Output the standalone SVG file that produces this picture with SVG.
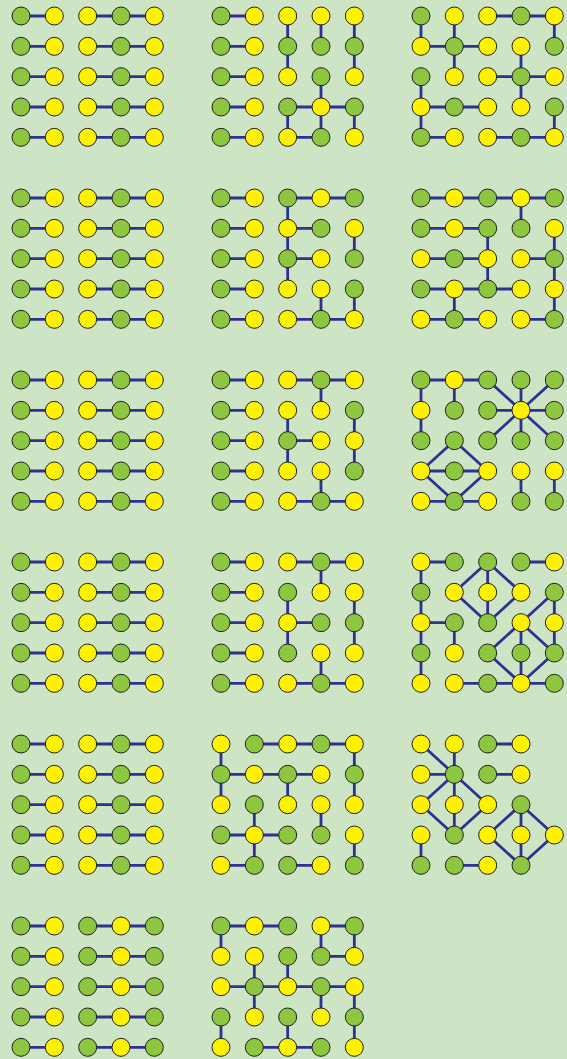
<svg xmlns="http://www.w3.org/2000/svg" xmlns:xlink="http://www.w3.org/1999/xlink" width="567" height="1059" viewBox="0 0 567 1059">
<style>
.e{fill:none;stroke:#2E3192;stroke-width:2.8;stroke-linecap:butt}
.g{fill:#8DC63F;stroke:#231F20;stroke-width:1}
.y{fill:#FFF200;stroke:#231F20;stroke-width:1}
</style>
<defs>
<circle id="G" class="g" r="9"/>
<circle id="Y" class="y" r="9"/>
</defs>
<rect width="567" height="1059" fill="#CDE5C5"/>
<g id="connectors">
<path class="e" transform="translate(21,16)" d="M0 0H33.33M66.67 0H133.33M0 30.33H33.33M66.67 30.33H133.33M0 60.67H33.33M66.67 60.67H133.33M0 91H33.33M66.67 91H133.33M0 121.33H33.33M66.67 121.33H133.33"/>
<path class="e" transform="translate(21,198)" d="M0 0H33.33M66.67 0H133.33M0 30.33H33.33M66.67 30.33H133.33M0 60.67H33.33M66.67 60.67H133.33M0 91H33.33M66.67 91H133.33M0 121.33H33.33M66.67 121.33H133.33"/>
<path class="e" transform="translate(21,380)" d="M0 0H33.33M66.67 0H133.33M0 30.33H33.33M66.67 30.33H133.33M0 60.67H33.33M66.67 60.67H133.33M0 91H33.33M66.67 91H133.33M0 121.33H33.33M66.67 121.33H133.33"/>
<path class="e" transform="translate(21,562)" d="M0 0H33.33M66.67 0H133.33M0 30.33H33.33M66.67 30.33H133.33M0 60.67H33.33M66.67 60.67H133.33M0 91H33.33M66.67 91H133.33M0 121.33H33.33M66.67 121.33H133.33"/>
<path class="e" transform="translate(21,744)" d="M0 0H33.33M66.67 0H133.33M0 30.33H33.33M66.67 30.33H133.33M0 60.67H33.33M66.67 60.67H133.33M0 91H33.33M66.67 91H133.33M0 121.33H33.33M66.67 121.33H133.33"/>
<path class="e" transform="translate(21,926)" d="M0 0H33.33M66.67 0H133.33M0 30.33H33.33M66.67 30.33H133.33M0 60.67H33.33M66.67 60.67H133.33M0 91H33.33M66.67 91H133.33M0 121.33H33.33M66.67 121.33H133.33"/>
<path class="e" transform="translate(221,16)" d="M0 0H33.33M0 30.33H33.33M0 60.67H33.33M0 91H33.33M0 121.33H33.33M66.67 0V60.67M100 0V30.33M133.33 0V60.67M100 60.67V121.33M66.67 91H133.33M66.67 91V121.33M66.67 121.33H100M133.33 91V121.33"/>
<path class="e" transform="translate(221,198)" d="M0 0H33.33M0 30.33H33.33M0 60.67H33.33M0 91H33.33M0 121.33H33.33M66.67 0H133.33M66.67 0V91M66.67 30.33H100M66.67 60.67H100M133.33 30.33V60.67M100 91V121.33M66.67 121.33H133.33M133.33 91V121.33"/>
<path class="e" transform="translate(221,380)" d="M0 0H33.33M0 30.33H33.33M0 60.67H33.33M0 91H33.33M0 121.33H33.33M66.67 0H133.33M100 0V30.33M66.67 30.33V91M66.67 60.67H100M133.33 30.33V91M100 91V121.33M66.67 121.33H133.33"/>
<path class="e" transform="translate(221,562)" d="M0 0H33.33M0 30.33H33.33M0 60.67H33.33M0 91H33.33M0 121.33H33.33M66.67 0H133.33M100 0V30.33M66.67 30.33V91M66.67 60.67H100M133.33 30.33V91M100 91V121.33M66.67 121.33H133.33"/>
<path class="e" transform="translate(221,744)" d="M33.33 0H133.33M0 0V60.67M0 30.33H100M66.67 30.33V60.67M133.33 0V60.67M33.33 60.67V121.33M0 91H66.67M0 121.33H33.33M100 60.67V91M66.67 121.33H100M133.33 91V121.33"/>
<path class="e" transform="translate(221,926)" d="M0 0H66.67M100 0H133.33M0 0V30.33M100 0V30.33M133.33 0V30.33M100 30.33H133.33M33.33 30.33V91M66.67 30.33V60.67M0 60.67H133.33M100 60.67V91M133.33 60.67V121.33M0 91V121.33M66.67 91V121.33M33.33 121.33H100"/>
<path class="e" transform="translate(421,16)" d="M66.67 0H133.33M133.33 0V30.33M0 0V30.33M33.33 0V60.67M0 30.33H66.67M100 30.33V91M66.67 60.67H133.33M0 60.67V121.33M0 91H66.67M0 121.33H33.33M66.67 121.33H133.33M133.33 91V121.33"/>
<path class="e" transform="translate(421,198)" d="M0 0H133.33M100 0V30.33M0 30.33H66.67M66.67 30.33V91M0 60.67H66.67M133.33 30.33V121.33M100 60.67H133.33M0 91H100M33.33 91V121.33M0 121.33H66.67M100 121.33H133.33"/>
<path class="e" transform="translate(421,380)" d="M0 0H66.67M0 0V60.67M33.33 0V30.33M100 30.33L66.67 0M100 30.33V0M100 30.33L133.33 0M66.67 30.33H133.33M100 30.33L66.67 60.67M100 30.33V60.67M100 30.33L133.33 60.67M33.33 60.67L0 91M33.33 60.67L66.67 91M0 91H66.67M0 91L33.33 121.33M66.67 91L33.33 121.33M0 121.33H66.67M100 91V121.33M133.33 91V121.33"/>
<path class="e" transform="translate(421,562)" d="M0 0H33.33M100 0H133.33M0 0V121.33M0 60.67H33.33M33.33 60.67V91M66.67 0L33.33 30.33M66.67 0V30.33M66.67 0L100 30.33M33.33 30.33L66.67 60.67M66.67 30.33V60.67M100 30.33L66.67 60.67M100 60.67L133.33 30.33M133.33 30.33V91M100 60.67L66.67 91M100 60.67V121.33M100 60.67L133.33 91M66.67 91L100 121.33M133.33 91L100 121.33M33.33 121.33H133.33"/>
<path class="e" transform="translate(421,744)" d="M0 0L33.33 30.33M33.33 0V30.33M0 30.33H33.33M66.67 0H100M66.67 30.33H100M33.33 30.33L0 60.67M33.33 30.33V91M33.33 30.33L66.67 60.67M0 60.67L33.33 91M66.67 60.67L33.33 91M0 91V121.33M33.33 121.33H66.67M100 60.67L66.67 91M100 60.67V121.33M100 60.67L133.33 91M66.67 91L100 121.33M133.33 91L100 121.33"/>
</g>
<g id="panel-00" transform="translate(21,16)">
<g id="p00-00"><use href="#G" x="0" y="0"/></g><g id="p00-01"><use href="#Y" x="33.33" y="0"/></g><g id="p00-02"><use href="#Y" x="66.67" y="0"/></g><g id="p00-03"><use href="#G" x="100" y="0"/></g><g id="p00-04"><use href="#Y" x="133.33" y="0"/></g>
<g id="p00-10"><use href="#G" x="0" y="30.33"/></g><g id="p00-11"><use href="#Y" x="33.33" y="30.33"/></g><g id="p00-12"><use href="#Y" x="66.67" y="30.33"/></g><g id="p00-13"><use href="#G" x="100" y="30.33"/></g><g id="p00-14"><use href="#Y" x="133.33" y="30.33"/></g>
<g id="p00-20"><use href="#G" x="0" y="60.67"/></g><g id="p00-21"><use href="#Y" x="33.33" y="60.67"/></g><g id="p00-22"><use href="#Y" x="66.67" y="60.67"/></g><g id="p00-23"><use href="#G" x="100" y="60.67"/></g><g id="p00-24"><use href="#Y" x="133.33" y="60.67"/></g>
<g id="p00-30"><use href="#G" x="0" y="91"/></g><g id="p00-31"><use href="#Y" x="33.33" y="91"/></g><g id="p00-32"><use href="#Y" x="66.67" y="91"/></g><g id="p00-33"><use href="#G" x="100" y="91"/></g><g id="p00-34"><use href="#Y" x="133.33" y="91"/></g>
<g id="p00-40"><use href="#G" x="0" y="121.33"/></g><g id="p00-41"><use href="#Y" x="33.33" y="121.33"/></g><g id="p00-42"><use href="#Y" x="66.67" y="121.33"/></g><g id="p00-43"><use href="#G" x="100" y="121.33"/></g><g id="p00-44"><use href="#Y" x="133.33" y="121.33"/></g>
</g>
<g id="panel-10" transform="translate(21,198)">
<g id="p10-00"><use href="#G" x="0" y="0"/></g><g id="p10-01"><use href="#Y" x="33.33" y="0"/></g><g id="p10-02"><use href="#Y" x="66.67" y="0"/></g><g id="p10-03"><use href="#G" x="100" y="0"/></g><g id="p10-04"><use href="#Y" x="133.33" y="0"/></g>
<g id="p10-10"><use href="#G" x="0" y="30.33"/></g><g id="p10-11"><use href="#Y" x="33.33" y="30.33"/></g><g id="p10-12"><use href="#Y" x="66.67" y="30.33"/></g><g id="p10-13"><use href="#G" x="100" y="30.33"/></g><g id="p10-14"><use href="#Y" x="133.33" y="30.33"/></g>
<g id="p10-20"><use href="#G" x="0" y="60.67"/></g><g id="p10-21"><use href="#Y" x="33.33" y="60.67"/></g><g id="p10-22"><use href="#Y" x="66.67" y="60.67"/></g><g id="p10-23"><use href="#G" x="100" y="60.67"/></g><g id="p10-24"><use href="#Y" x="133.33" y="60.67"/></g>
<g id="p10-30"><use href="#G" x="0" y="91"/></g><g id="p10-31"><use href="#Y" x="33.33" y="91"/></g><g id="p10-32"><use href="#Y" x="66.67" y="91"/></g><g id="p10-33"><use href="#G" x="100" y="91"/></g><g id="p10-34"><use href="#Y" x="133.33" y="91"/></g>
<g id="p10-40"><use href="#G" x="0" y="121.33"/></g><g id="p10-41"><use href="#Y" x="33.33" y="121.33"/></g><g id="p10-42"><use href="#Y" x="66.67" y="121.33"/></g><g id="p10-43"><use href="#G" x="100" y="121.33"/></g><g id="p10-44"><use href="#Y" x="133.33" y="121.33"/></g>
</g>
<g id="panel-20" transform="translate(21,380)">
<g id="p20-00"><use href="#G" x="0" y="0"/></g><g id="p20-01"><use href="#Y" x="33.33" y="0"/></g><g id="p20-02"><use href="#Y" x="66.67" y="0"/></g><g id="p20-03"><use href="#G" x="100" y="0"/></g><g id="p20-04"><use href="#Y" x="133.33" y="0"/></g>
<g id="p20-10"><use href="#G" x="0" y="30.33"/></g><g id="p20-11"><use href="#Y" x="33.33" y="30.33"/></g><g id="p20-12"><use href="#Y" x="66.67" y="30.33"/></g><g id="p20-13"><use href="#G" x="100" y="30.33"/></g><g id="p20-14"><use href="#Y" x="133.33" y="30.33"/></g>
<g id="p20-20"><use href="#G" x="0" y="60.67"/></g><g id="p20-21"><use href="#Y" x="33.33" y="60.67"/></g><g id="p20-22"><use href="#Y" x="66.67" y="60.67"/></g><g id="p20-23"><use href="#G" x="100" y="60.67"/></g><g id="p20-24"><use href="#Y" x="133.33" y="60.67"/></g>
<g id="p20-30"><use href="#G" x="0" y="91"/></g><g id="p20-31"><use href="#Y" x="33.33" y="91"/></g><g id="p20-32"><use href="#Y" x="66.67" y="91"/></g><g id="p20-33"><use href="#G" x="100" y="91"/></g><g id="p20-34"><use href="#Y" x="133.33" y="91"/></g>
<g id="p20-40"><use href="#G" x="0" y="121.33"/></g><g id="p20-41"><use href="#Y" x="33.33" y="121.33"/></g><g id="p20-42"><use href="#Y" x="66.67" y="121.33"/></g><g id="p20-43"><use href="#G" x="100" y="121.33"/></g><g id="p20-44"><use href="#Y" x="133.33" y="121.33"/></g>
</g>
<g id="panel-30" transform="translate(21,562)">
<g id="p30-00"><use href="#G" x="0" y="0"/></g><g id="p30-01"><use href="#Y" x="33.33" y="0"/></g><g id="p30-02"><use href="#Y" x="66.67" y="0"/></g><g id="p30-03"><use href="#G" x="100" y="0"/></g><g id="p30-04"><use href="#Y" x="133.33" y="0"/></g>
<g id="p30-10"><use href="#G" x="0" y="30.33"/></g><g id="p30-11"><use href="#Y" x="33.33" y="30.33"/></g><g id="p30-12"><use href="#Y" x="66.67" y="30.33"/></g><g id="p30-13"><use href="#G" x="100" y="30.33"/></g><g id="p30-14"><use href="#Y" x="133.33" y="30.33"/></g>
<g id="p30-20"><use href="#G" x="0" y="60.67"/></g><g id="p30-21"><use href="#Y" x="33.33" y="60.67"/></g><g id="p30-22"><use href="#Y" x="66.67" y="60.67"/></g><g id="p30-23"><use href="#G" x="100" y="60.67"/></g><g id="p30-24"><use href="#Y" x="133.33" y="60.67"/></g>
<g id="p30-30"><use href="#G" x="0" y="91"/></g><g id="p30-31"><use href="#Y" x="33.33" y="91"/></g><g id="p30-32"><use href="#Y" x="66.67" y="91"/></g><g id="p30-33"><use href="#G" x="100" y="91"/></g><g id="p30-34"><use href="#Y" x="133.33" y="91"/></g>
<g id="p30-40"><use href="#G" x="0" y="121.33"/></g><g id="p30-41"><use href="#Y" x="33.33" y="121.33"/></g><g id="p30-42"><use href="#Y" x="66.67" y="121.33"/></g><g id="p30-43"><use href="#G" x="100" y="121.33"/></g><g id="p30-44"><use href="#Y" x="133.33" y="121.33"/></g>
</g>
<g id="panel-40" transform="translate(21,744)">
<g id="p40-00"><use href="#G" x="0" y="0"/></g><g id="p40-01"><use href="#Y" x="33.33" y="0"/></g><g id="p40-02"><use href="#Y" x="66.67" y="0"/></g><g id="p40-03"><use href="#G" x="100" y="0"/></g><g id="p40-04"><use href="#Y" x="133.33" y="0"/></g>
<g id="p40-10"><use href="#G" x="0" y="30.33"/></g><g id="p40-11"><use href="#Y" x="33.33" y="30.33"/></g><g id="p40-12"><use href="#Y" x="66.67" y="30.33"/></g><g id="p40-13"><use href="#G" x="100" y="30.33"/></g><g id="p40-14"><use href="#Y" x="133.33" y="30.33"/></g>
<g id="p40-20"><use href="#G" x="0" y="60.67"/></g><g id="p40-21"><use href="#Y" x="33.33" y="60.67"/></g><g id="p40-22"><use href="#Y" x="66.67" y="60.67"/></g><g id="p40-23"><use href="#G" x="100" y="60.67"/></g><g id="p40-24"><use href="#Y" x="133.33" y="60.67"/></g>
<g id="p40-30"><use href="#G" x="0" y="91"/></g><g id="p40-31"><use href="#Y" x="33.33" y="91"/></g><g id="p40-32"><use href="#Y" x="66.67" y="91"/></g><g id="p40-33"><use href="#G" x="100" y="91"/></g><g id="p40-34"><use href="#Y" x="133.33" y="91"/></g>
<g id="p40-40"><use href="#G" x="0" y="121.33"/></g><g id="p40-41"><use href="#Y" x="33.33" y="121.33"/></g><g id="p40-42"><use href="#Y" x="66.67" y="121.33"/></g><g id="p40-43"><use href="#G" x="100" y="121.33"/></g><g id="p40-44"><use href="#Y" x="133.33" y="121.33"/></g>
</g>
<g id="panel-50" transform="translate(21,926)">
<g id="p50-00"><use href="#G" x="0" y="0"/></g><g id="p50-01"><use href="#Y" x="33.33" y="0"/></g><g id="p50-02"><use href="#G" x="66.67" y="0"/></g><g id="p50-03"><use href="#Y" x="100" y="0"/></g><g id="p50-04"><use href="#G" x="133.33" y="0"/></g>
<g id="p50-10"><use href="#G" x="0" y="30.33"/></g><g id="p50-11"><use href="#Y" x="33.33" y="30.33"/></g><g id="p50-12"><use href="#G" x="66.67" y="30.33"/></g><g id="p50-13"><use href="#Y" x="100" y="30.33"/></g><g id="p50-14"><use href="#G" x="133.33" y="30.33"/></g>
<g id="p50-20"><use href="#G" x="0" y="60.67"/></g><g id="p50-21"><use href="#Y" x="33.33" y="60.67"/></g><g id="p50-22"><use href="#G" x="66.67" y="60.67"/></g><g id="p50-23"><use href="#Y" x="100" y="60.67"/></g><g id="p50-24"><use href="#G" x="133.33" y="60.67"/></g>
<g id="p50-30"><use href="#G" x="0" y="91"/></g><g id="p50-31"><use href="#Y" x="33.33" y="91"/></g><g id="p50-32"><use href="#G" x="66.67" y="91"/></g><g id="p50-33"><use href="#Y" x="100" y="91"/></g><g id="p50-34"><use href="#G" x="133.33" y="91"/></g>
<g id="p50-40"><use href="#G" x="0" y="121.33"/></g><g id="p50-41"><use href="#Y" x="33.33" y="121.33"/></g><g id="p50-42"><use href="#G" x="66.67" y="121.33"/></g><g id="p50-43"><use href="#Y" x="100" y="121.33"/></g><g id="p50-44"><use href="#G" x="133.33" y="121.33"/></g>
</g>
<g id="panel-01" transform="translate(221,16)">
<g id="p01-00"><use href="#G" x="0" y="0"/></g><g id="p01-01"><use href="#Y" x="33.33" y="0"/></g><g id="p01-02"><use href="#Y" x="66.67" y="0"/></g><g id="p01-03"><use href="#Y" x="100" y="0"/></g><g id="p01-04"><use href="#Y" x="133.33" y="0"/></g>
<g id="p01-10"><use href="#G" x="0" y="30.33"/></g><g id="p01-11"><use href="#Y" x="33.33" y="30.33"/></g><g id="p01-12"><use href="#G" x="66.67" y="30.33"/></g><g id="p01-13"><use href="#G" x="100" y="30.33"/></g><g id="p01-14"><use href="#G" x="133.33" y="30.33"/></g>
<g id="p01-20"><use href="#G" x="0" y="60.67"/></g><g id="p01-21"><use href="#Y" x="33.33" y="60.67"/></g><g id="p01-22"><use href="#Y" x="66.67" y="60.67"/></g><g id="p01-23"><use href="#G" x="100" y="60.67"/></g><g id="p01-24"><use href="#Y" x="133.33" y="60.67"/></g>
<g id="p01-30"><use href="#G" x="0" y="91"/></g><g id="p01-31"><use href="#Y" x="33.33" y="91"/></g><g id="p01-32"><use href="#G" x="66.67" y="91"/></g><g id="p01-33"><use href="#Y" x="100" y="91"/></g><g id="p01-34"><use href="#G" x="133.33" y="91"/></g>
<g id="p01-40"><use href="#G" x="0" y="121.33"/></g><g id="p01-41"><use href="#Y" x="33.33" y="121.33"/></g><g id="p01-42"><use href="#Y" x="66.67" y="121.33"/></g><g id="p01-43"><use href="#G" x="100" y="121.33"/></g><g id="p01-44"><use href="#Y" x="133.33" y="121.33"/></g>
</g>
<g id="panel-11" transform="translate(221,198)">
<g id="p11-00"><use href="#G" x="0" y="0"/></g><g id="p11-01"><use href="#Y" x="33.33" y="0"/></g><g id="p11-02"><use href="#G" x="66.67" y="0"/></g><g id="p11-03"><use href="#Y" x="100" y="0"/></g><g id="p11-04"><use href="#G" x="133.33" y="0"/></g>
<g id="p11-10"><use href="#G" x="0" y="30.33"/></g><g id="p11-11"><use href="#Y" x="33.33" y="30.33"/></g><g id="p11-12"><use href="#Y" x="66.67" y="30.33"/></g><g id="p11-13"><use href="#G" x="100" y="30.33"/></g><g id="p11-14"><use href="#Y" x="133.33" y="30.33"/></g>
<g id="p11-20"><use href="#G" x="0" y="60.67"/></g><g id="p11-21"><use href="#Y" x="33.33" y="60.67"/></g><g id="p11-22"><use href="#G" x="66.67" y="60.67"/></g><g id="p11-23"><use href="#Y" x="100" y="60.67"/></g><g id="p11-24"><use href="#G" x="133.33" y="60.67"/></g>
<g id="p11-30"><use href="#G" x="0" y="91"/></g><g id="p11-31"><use href="#Y" x="33.33" y="91"/></g><g id="p11-32"><use href="#Y" x="66.67" y="91"/></g><g id="p11-33"><use href="#Y" x="100" y="91"/></g><g id="p11-34"><use href="#G" x="133.33" y="91"/></g>
<g id="p11-40"><use href="#G" x="0" y="121.33"/></g><g id="p11-41"><use href="#Y" x="33.33" y="121.33"/></g><g id="p11-42"><use href="#Y" x="66.67" y="121.33"/></g><g id="p11-43"><use href="#G" x="100" y="121.33"/></g><g id="p11-44"><use href="#Y" x="133.33" y="121.33"/></g>
</g>
<g id="panel-21" transform="translate(221,380)">
<g id="p21-00"><use href="#G" x="0" y="0"/></g><g id="p21-01"><use href="#Y" x="33.33" y="0"/></g><g id="p21-02"><use href="#Y" x="66.67" y="0"/></g><g id="p21-03"><use href="#G" x="100" y="0"/></g><g id="p21-04"><use href="#Y" x="133.33" y="0"/></g>
<g id="p21-10"><use href="#G" x="0" y="30.33"/></g><g id="p21-11"><use href="#Y" x="33.33" y="30.33"/></g><g id="p21-12"><use href="#Y" x="66.67" y="30.33"/></g><g id="p21-13"><use href="#Y" x="100" y="30.33"/></g><g id="p21-14"><use href="#G" x="133.33" y="30.33"/></g>
<g id="p21-20"><use href="#G" x="0" y="60.67"/></g><g id="p21-21"><use href="#Y" x="33.33" y="60.67"/></g><g id="p21-22"><use href="#G" x="66.67" y="60.67"/></g><g id="p21-23"><use href="#Y" x="100" y="60.67"/></g><g id="p21-24"><use href="#Y" x="133.33" y="60.67"/></g>
<g id="p21-30"><use href="#G" x="0" y="91"/></g><g id="p21-31"><use href="#Y" x="33.33" y="91"/></g><g id="p21-32"><use href="#Y" x="66.67" y="91"/></g><g id="p21-33"><use href="#Y" x="100" y="91"/></g><g id="p21-34"><use href="#G" x="133.33" y="91"/></g>
<g id="p21-40"><use href="#G" x="0" y="121.33"/></g><g id="p21-41"><use href="#Y" x="33.33" y="121.33"/></g><g id="p21-42"><use href="#Y" x="66.67" y="121.33"/></g><g id="p21-43"><use href="#G" x="100" y="121.33"/></g><g id="p21-44"><use href="#Y" x="133.33" y="121.33"/></g>
</g>
<g id="panel-31" transform="translate(221,562)">
<g id="p31-00"><use href="#G" x="0" y="0"/></g><g id="p31-01"><use href="#Y" x="33.33" y="0"/></g><g id="p31-02"><use href="#Y" x="66.67" y="0"/></g><g id="p31-03"><use href="#G" x="100" y="0"/></g><g id="p31-04"><use href="#Y" x="133.33" y="0"/></g>
<g id="p31-10"><use href="#G" x="0" y="30.33"/></g><g id="p31-11"><use href="#Y" x="33.33" y="30.33"/></g><g id="p31-12"><use href="#G" x="66.67" y="30.33"/></g><g id="p31-13"><use href="#Y" x="100" y="30.33"/></g><g id="p31-14"><use href="#Y" x="133.33" y="30.33"/></g>
<g id="p31-20"><use href="#G" x="0" y="60.67"/></g><g id="p31-21"><use href="#Y" x="33.33" y="60.67"/></g><g id="p31-22"><use href="#Y" x="66.67" y="60.67"/></g><g id="p31-23"><use href="#G" x="100" y="60.67"/></g><g id="p31-24"><use href="#G" x="133.33" y="60.67"/></g>
<g id="p31-30"><use href="#G" x="0" y="91"/></g><g id="p31-31"><use href="#Y" x="33.33" y="91"/></g><g id="p31-32"><use href="#G" x="66.67" y="91"/></g><g id="p31-33"><use href="#Y" x="100" y="91"/></g><g id="p31-34"><use href="#Y" x="133.33" y="91"/></g>
<g id="p31-40"><use href="#G" x="0" y="121.33"/></g><g id="p31-41"><use href="#Y" x="33.33" y="121.33"/></g><g id="p31-42"><use href="#Y" x="66.67" y="121.33"/></g><g id="p31-43"><use href="#G" x="100" y="121.33"/></g><g id="p31-44"><use href="#Y" x="133.33" y="121.33"/></g>
</g>
<g id="panel-41" transform="translate(221,744)">
<g id="p41-00"><use href="#Y" x="0" y="0"/></g><g id="p41-01"><use href="#G" x="33.33" y="0"/></g><g id="p41-02"><use href="#Y" x="66.67" y="0"/></g><g id="p41-03"><use href="#G" x="100" y="0"/></g><g id="p41-04"><use href="#Y" x="133.33" y="0"/></g>
<g id="p41-10"><use href="#G" x="0" y="30.33"/></g><g id="p41-11"><use href="#Y" x="33.33" y="30.33"/></g><g id="p41-12"><use href="#G" x="66.67" y="30.33"/></g><g id="p41-13"><use href="#Y" x="100" y="30.33"/></g><g id="p41-14"><use href="#G" x="133.33" y="30.33"/></g>
<g id="p41-20"><use href="#Y" x="0" y="60.67"/></g><g id="p41-21"><use href="#G" x="33.33" y="60.67"/></g><g id="p41-22"><use href="#Y" x="66.67" y="60.67"/></g><g id="p41-23"><use href="#Y" x="100" y="60.67"/></g><g id="p41-24"><use href="#Y" x="133.33" y="60.67"/></g>
<g id="p41-30"><use href="#G" x="0" y="91"/></g><g id="p41-31"><use href="#Y" x="33.33" y="91"/></g><g id="p41-32"><use href="#G" x="66.67" y="91"/></g><g id="p41-33"><use href="#G" x="100" y="91"/></g><g id="p41-34"><use href="#Y" x="133.33" y="91"/></g>
<g id="p41-40"><use href="#Y" x="0" y="121.33"/></g><g id="p41-41"><use href="#G" x="33.33" y="121.33"/></g><g id="p41-42"><use href="#G" x="66.67" y="121.33"/></g><g id="p41-43"><use href="#Y" x="100" y="121.33"/></g><g id="p41-44"><use href="#G" x="133.33" y="121.33"/></g>
</g>
<g id="panel-51" transform="translate(221,926)">
<g id="p51-00"><use href="#G" x="0" y="0"/></g><g id="p51-01"><use href="#Y" x="33.33" y="0"/></g><g id="p51-02"><use href="#G" x="66.67" y="0"/></g><g id="p51-03"><use href="#Y" x="100" y="0"/></g><g id="p51-04"><use href="#G" x="133.33" y="0"/></g>
<g id="p51-10"><use href="#Y" x="0" y="30.33"/></g><g id="p51-11"><use href="#Y" x="33.33" y="30.33"/></g><g id="p51-12"><use href="#G" x="66.67" y="30.33"/></g><g id="p51-13"><use href="#G" x="100" y="30.33"/></g><g id="p51-14"><use href="#Y" x="133.33" y="30.33"/></g>
<g id="p51-20"><use href="#Y" x="0" y="60.67"/></g><g id="p51-21"><use href="#G" x="33.33" y="60.67"/></g><g id="p51-22"><use href="#Y" x="66.67" y="60.67"/></g><g id="p51-23"><use href="#G" x="100" y="60.67"/></g><g id="p51-24"><use href="#Y" x="133.33" y="60.67"/></g>
<g id="p51-30"><use href="#G" x="0" y="91"/></g><g id="p51-31"><use href="#Y" x="33.33" y="91"/></g><g id="p51-32"><use href="#G" x="66.67" y="91"/></g><g id="p51-33"><use href="#Y" x="100" y="91"/></g><g id="p51-34"><use href="#G" x="133.33" y="91"/></g>
<g id="p51-40"><use href="#Y" x="0" y="121.33"/></g><g id="p51-41"><use href="#G" x="33.33" y="121.33"/></g><g id="p51-42"><use href="#Y" x="66.67" y="121.33"/></g><g id="p51-43"><use href="#G" x="100" y="121.33"/></g><g id="p51-44"><use href="#Y" x="133.33" y="121.33"/></g>
</g>
<g id="panel-02" transform="translate(421,16)">
<g id="p02-00"><use href="#G" x="0" y="0"/></g><g id="p02-01"><use href="#Y" x="33.33" y="0"/></g><g id="p02-02"><use href="#Y" x="66.67" y="0"/></g><g id="p02-03"><use href="#G" x="100" y="0"/></g><g id="p02-04"><use href="#Y" x="133.33" y="0"/></g>
<g id="p02-10"><use href="#Y" x="0" y="30.33"/></g><g id="p02-11"><use href="#G" x="33.33" y="30.33"/></g><g id="p02-12"><use href="#Y" x="66.67" y="30.33"/></g><g id="p02-13"><use href="#Y" x="100" y="30.33"/></g><g id="p02-14"><use href="#G" x="133.33" y="30.33"/></g>
<g id="p02-20"><use href="#G" x="0" y="60.67"/></g><g id="p02-21"><use href="#Y" x="33.33" y="60.67"/></g><g id="p02-22"><use href="#Y" x="66.67" y="60.67"/></g><g id="p02-23"><use href="#G" x="100" y="60.67"/></g><g id="p02-24"><use href="#Y" x="133.33" y="60.67"/></g>
<g id="p02-30"><use href="#Y" x="0" y="91"/></g><g id="p02-31"><use href="#G" x="33.33" y="91"/></g><g id="p02-32"><use href="#Y" x="66.67" y="91"/></g><g id="p02-33"><use href="#Y" x="100" y="91"/></g><g id="p02-34"><use href="#G" x="133.33" y="91"/></g>
<g id="p02-40"><use href="#G" x="0" y="121.33"/></g><g id="p02-41"><use href="#Y" x="33.33" y="121.33"/></g><g id="p02-42"><use href="#Y" x="66.67" y="121.33"/></g><g id="p02-43"><use href="#G" x="100" y="121.33"/></g><g id="p02-44"><use href="#Y" x="133.33" y="121.33"/></g>
</g>
<g id="panel-12" transform="translate(421,198)">
<g id="p12-00"><use href="#G" x="0" y="0"/></g><g id="p12-01"><use href="#Y" x="33.33" y="0"/></g><g id="p12-02"><use href="#G" x="66.67" y="0"/></g><g id="p12-03"><use href="#Y" x="100" y="0"/></g><g id="p12-04"><use href="#G" x="133.33" y="0"/></g>
<g id="p12-10"><use href="#G" x="0" y="30.33"/></g><g id="p12-11"><use href="#Y" x="33.33" y="30.33"/></g><g id="p12-12"><use href="#G" x="66.67" y="30.33"/></g><g id="p12-13"><use href="#G" x="100" y="30.33"/></g><g id="p12-14"><use href="#Y" x="133.33" y="30.33"/></g>
<g id="p12-20"><use href="#Y" x="0" y="60.67"/></g><g id="p12-21"><use href="#G" x="33.33" y="60.67"/></g><g id="p12-22"><use href="#Y" x="66.67" y="60.67"/></g><g id="p12-23"><use href="#Y" x="100" y="60.67"/></g><g id="p12-24"><use href="#G" x="133.33" y="60.67"/></g>
<g id="p12-30"><use href="#G" x="0" y="91"/></g><g id="p12-31"><use href="#Y" x="33.33" y="91"/></g><g id="p12-32"><use href="#G" x="66.67" y="91"/></g><g id="p12-33"><use href="#Y" x="100" y="91"/></g><g id="p12-34"><use href="#Y" x="133.33" y="91"/></g>
<g id="p12-40"><use href="#Y" x="0" y="121.33"/></g><g id="p12-41"><use href="#G" x="33.33" y="121.33"/></g><g id="p12-42"><use href="#Y" x="66.67" y="121.33"/></g><g id="p12-43"><use href="#Y" x="100" y="121.33"/></g><g id="p12-44"><use href="#G" x="133.33" y="121.33"/></g>
</g>
<g id="panel-22" transform="translate(421,380)">
<g id="p22-00"><use href="#G" x="0" y="0"/></g><g id="p22-01"><use href="#Y" x="33.33" y="0"/></g><g id="p22-02"><use href="#G" x="66.67" y="0"/></g><g id="p22-03"><use href="#G" x="100" y="0"/></g><g id="p22-04"><use href="#G" x="133.33" y="0"/></g>
<g id="p22-10"><use href="#Y" x="0" y="30.33"/></g><g id="p22-11"><use href="#G" x="33.33" y="30.33"/></g><g id="p22-12"><use href="#G" x="66.67" y="30.33"/></g><g id="p22-13"><use href="#Y" x="100" y="30.33"/></g><g id="p22-14"><use href="#G" x="133.33" y="30.33"/></g>
<g id="p22-20"><use href="#G" x="0" y="60.67"/></g><g id="p22-21"><use href="#G" x="33.33" y="60.67"/></g><g id="p22-22"><use href="#G" x="66.67" y="60.67"/></g><g id="p22-23"><use href="#G" x="100" y="60.67"/></g><g id="p22-24"><use href="#G" x="133.33" y="60.67"/></g>
<g id="p22-30"><use href="#Y" x="0" y="91"/></g><g id="p22-31"><use href="#G" x="33.33" y="91"/></g><g id="p22-32"><use href="#Y" x="66.67" y="91"/></g><g id="p22-33"><use href="#Y" x="100" y="91"/></g><g id="p22-34"><use href="#Y" x="133.33" y="91"/></g>
<g id="p22-40"><use href="#Y" x="0" y="121.33"/></g><g id="p22-41"><use href="#G" x="33.33" y="121.33"/></g><g id="p22-42"><use href="#Y" x="66.67" y="121.33"/></g><g id="p22-43"><use href="#G" x="100" y="121.33"/></g><g id="p22-44"><use href="#G" x="133.33" y="121.33"/></g>
</g>
<g id="panel-32" transform="translate(421,562)">
<g id="p32-00"><use href="#Y" x="0" y="0"/></g><g id="p32-01"><use href="#G" x="33.33" y="0"/></g><g id="p32-02"><use href="#G" x="66.67" y="0"/></g><g id="p32-03"><use href="#G" x="100" y="0"/></g><g id="p32-04"><use href="#Y" x="133.33" y="0"/></g>
<g id="p32-10"><use href="#G" x="0" y="30.33"/></g><g id="p32-11"><use href="#Y" x="33.33" y="30.33"/></g><g id="p32-12"><use href="#Y" x="66.67" y="30.33"/></g><g id="p32-13"><use href="#Y" x="100" y="30.33"/></g><g id="p32-14"><use href="#G" x="133.33" y="30.33"/></g>
<g id="p32-20"><use href="#Y" x="0" y="60.67"/></g><g id="p32-21"><use href="#G" x="33.33" y="60.67"/></g><g id="p32-22"><use href="#G" x="66.67" y="60.67"/></g><g id="p32-23"><use href="#Y" x="100" y="60.67"/></g><g id="p32-24"><use href="#Y" x="133.33" y="60.67"/></g>
<g id="p32-30"><use href="#G" x="0" y="91"/></g><g id="p32-31"><use href="#Y" x="33.33" y="91"/></g><g id="p32-32"><use href="#G" x="66.67" y="91"/></g><g id="p32-33"><use href="#G" x="100" y="91"/></g><g id="p32-34"><use href="#G" x="133.33" y="91"/></g>
<g id="p32-40"><use href="#Y" x="0" y="121.33"/></g><g id="p32-41"><use href="#Y" x="33.33" y="121.33"/></g><g id="p32-42"><use href="#G" x="66.67" y="121.33"/></g><g id="p32-43"><use href="#Y" x="100" y="121.33"/></g><g id="p32-44"><use href="#G" x="133.33" y="121.33"/></g>
</g>
<g id="panel-42" transform="translate(421,744)">
<g id="p42-00"><use href="#Y" x="0" y="0"/></g><g id="p42-01"><use href="#Y" x="33.33" y="0"/></g><g id="p42-02"><use href="#G" x="66.67" y="0"/></g><g id="p42-03"><use href="#Y" x="100" y="0"/></g>
<g id="p42-10"><use href="#Y" x="0" y="30.33"/></g><g id="p42-11"><use href="#G" x="33.33" y="30.33"/></g><g id="p42-12"><use href="#G" x="66.67" y="30.33"/></g><g id="p42-13"><use href="#Y" x="100" y="30.33"/></g>
<g id="p42-20"><use href="#Y" x="0" y="60.67"/></g><g id="p42-21"><use href="#Y" x="33.33" y="60.67"/></g><g id="p42-22"><use href="#Y" x="66.67" y="60.67"/></g><g id="p42-23"><use href="#G" x="100" y="60.67"/></g>
<g id="p42-30"><use href="#Y" x="0" y="91"/></g><g id="p42-31"><use href="#G" x="33.33" y="91"/></g><g id="p42-32"><use href="#Y" x="66.67" y="91"/></g><g id="p42-33"><use href="#Y" x="100" y="91"/></g><g id="p42-34"><use href="#Y" x="133.33" y="91"/></g>
<g id="p42-40"><use href="#G" x="0" y="121.33"/></g><g id="p42-41"><use href="#G" x="33.33" y="121.33"/></g><g id="p42-42"><use href="#Y" x="66.67" y="121.33"/></g><g id="p42-43"><use href="#G" x="100" y="121.33"/></g>
</g>
</svg>
